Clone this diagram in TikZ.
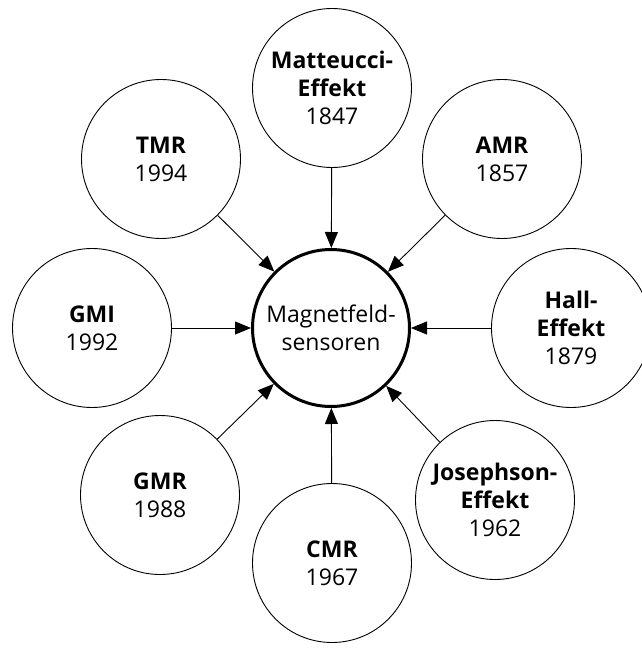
\documentclass[tikz,border=0pt]{standalone}
\usepackage{fontspec}
\setmainfont{Open Sans}
\usetikzlibrary{arrows.meta}
\tikzset{
  outer/.style={circle, draw, line width=0.9pt, minimum size=159pt, inner sep=0pt, align=center,
    font=\fontsize{23}{28}\selectfont},
  hub/.style={circle, draw, line width=3pt, minimum size=157pt, inner sep=0pt, align=center,
    font=\fontsize{23}{28}\selectfont},
  conn/.style={line width=0.9pt, -{Triangle[length=16pt,width=13pt]}}
}
\begin{document}
\begin{tikzpicture}[x=1pt,y=-1pt]
\useasboundingbox (0,0) rectangle (642,648);
\node[hub] (c) at (331,328) {Magnetfeld-\\sensoren};
\node[outer] (mat) at (332,88) {\textbf{Matteucci-}\\\textbf{Effekt}\\1847};
\node[outer] (tmr) at (161,159) {\textbf{TMR}\\1994};
\node[outer] (amr) at (502,159) {\textbf{AMR}\\1857};
\node[outer] (gmi) at (92,328) {\textbf{GMI}\\1992};
\node[outer] (hall) at (571,328) {\textbf{Hall-}\\\textbf{Effekt}\\1879};
\node[outer] (gmr) at (160,495) {\textbf{GMR}\\1988};
\node[outer] (cmr) at (332,563) {\textbf{CMR}\\1967};
\node[outer] (jos) at (495,500) {\textbf{Josephson-}\\\textbf{Effekt}\\1962};
\foreach \n in {mat,tmr,amr,gmi,hall,gmr,cmr,jos}
  \draw[conn] (\n) -- (c);
\end{tikzpicture}
\end{document}
